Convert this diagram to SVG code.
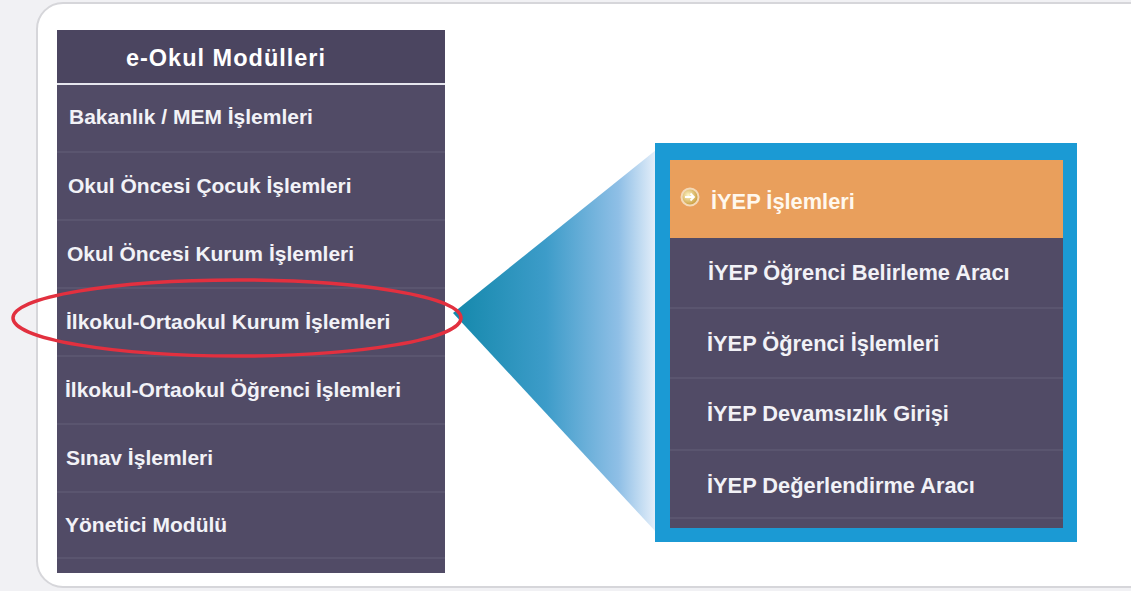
<svg xmlns="http://www.w3.org/2000/svg" width="1131" height="591" viewBox="0 0 1131 591">
<defs>
<linearGradient id="beam" x1="453" y1="0" x2="660" y2="0" gradientUnits="userSpaceOnUse">
<stop offset="0" stop-color="#1488ab"/>
<stop offset="0.45" stop-color="#3d9cc9"/>
<stop offset="0.8" stop-color="#8fbfe6"/>
<stop offset="1" stop-color="#eef4fc"/>
</linearGradient>
<radialGradient id="ico" cx="0.4" cy="0.4" r="0.6">
<stop offset="0" stop-color="#fff6c8"/>
<stop offset="1" stop-color="#c89a3a"/>
</radialGradient>
</defs>
<style>
.t{font-family:"Liberation Sans",Arial,sans-serif;font-weight:bold;font-size:21px;fill:#f2f2f7}
.r{font-size:21.8px}
.title{font-family:"Liberation Sans",Arial,sans-serif;font-weight:bold;font-size:23.5px;fill:#ffffff;letter-spacing:1px}
.panel{fill:#514b66}
.sep{stroke:#5e5873;stroke-width:1.5}
</style>
<rect x="0" y="0" width="1131" height="591" fill="#f1f1f4"/>
<rect x="37" y="3" width="1120" height="584" rx="26" fill="#ffffff" stroke="#d6d6da" stroke-width="2"/>

<g id="left-menu">
<rect class="panel" x="57" y="30" width="388" height="543"/>
<rect x="57" y="30" width="388" height="53" fill="#4b4560"/>
<line x1="57" y1="84" x2="445" y2="84" stroke="#e6e6ee" stroke-width="2"/>
<text class="title" x="226" y="66" text-anchor="middle">e-Okul Modülleri</text>
<line class="sep" x1="57" y1="152" x2="445" y2="152"/>
<line class="sep" x1="57" y1="220" x2="445" y2="220"/>
<line class="sep" x1="57" y1="288" x2="445" y2="288"/>
<line class="sep" x1="57" y1="356" x2="445" y2="356"/>
<line class="sep" x1="57" y1="424" x2="445" y2="424"/>
<line class="sep" x1="57" y1="492" x2="445" y2="492"/>
<line class="sep" x1="57" y1="558" x2="445" y2="558"/>
<text class="t" x="69" y="124">Bakanlık / MEM İşlemleri</text>
<text class="t" x="68" y="193">Okul Öncesi Çocuk İşlemleri</text>
<text class="t" x="67" y="261">Okul Öncesi Kurum İşlemleri</text>
<text class="t" x="66" y="329">İlkokul-Ortaokul Kurum İşlemleri</text>
<text class="t" x="65" y="397">İlkokul-Ortaokul Öğrenci İşlemleri</text>
<text class="t" x="66" y="465">Sınav İşlemleri</text>
<text class="t" x="65" y="532">Yönetici Modülü</text>
</g>

<g id="connectors">
<polygon points="453,313 656,150 656,532" fill="url(#beam)"/>
<ellipse cx="237" cy="318" rx="224" ry="38" fill="none" stroke="#e2303f" stroke-width="3.5"/>
</g>

<g id="right-menu">
<rect x="655" y="143" width="422" height="399" fill="#1b9ad4"/>
<rect class="panel" x="670" y="160" width="393" height="368"/>
<rect x="670" y="160" width="393" height="78" fill="#e99f5c"/>
<circle cx="690" cy="197" r="8.5" fill="url(#ico)" stroke="#f4d9b8" stroke-width="2"/>
<path d="M685 197 H694 M690.5 193.5 L694 197 L690.5 200.5" fill="none" stroke="#ffffff" stroke-width="1.8"/>
<text class="t r" x="711" y="209" style="fill:#fff8ee">İYEP İşlemleri</text>
<line class="sep" x1="670" y1="308" x2="1063" y2="308"/>
<line class="sep" x1="670" y1="378" x2="1063" y2="378"/>
<line class="sep" x1="670" y1="450" x2="1063" y2="450"/>
<line class="sep" x1="670" y1="518" x2="1063" y2="518"/>
<text class="t r" x="708" y="280">İYEP Öğrenci Belirleme Aracı</text>
<text class="t r" x="707" y="351">İYEP Öğrenci İşlemleri</text>
<text class="t r" x="707" y="421">İYEP Devamsızlık Girişi</text>
<text class="t r" x="707" y="493">İYEP Değerlendirme Aracı</text>
</g>
</svg>
